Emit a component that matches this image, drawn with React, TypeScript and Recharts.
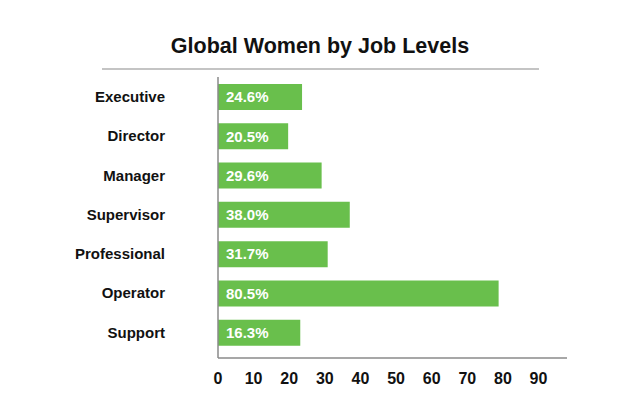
import { BarChart, Bar, XAxis, YAxis, LabelList } from 'recharts';

const categories = ['Executive', 'Director', 'Manager', 'Supervisor', 'Professional', 'Operator', 'Support'];
// bar lengths as drawn against the axis
const barValues = [23.6, 19.7, 29.1, 37.0, 30.8, 78.8, 23.1];
// text printed inside the bars
const barLabels = ['24.6%', '20.5%', '29.6%', '38.0%', '31.7%', '80.5%', '16.3%'];
const xTicks = [0, 10, 20, 30, 40, 50, 60, 70, 80, 90];

const data = categories.map((name, i) => ({ name, value: barValues[i], label: barLabels[i] }));

const font = '"Liberation Sans", Arial, Helvetica, sans-serif';

export default function App() {
  return (
    <div style={{ position: 'absolute', left: 0, top: 0, width: 640, height: 400, fontFamily: font, background: '#fff' }}>
      <svg width={640} height={400} style={{ position: 'absolute', left: 0, top: 0 }}>
        <text x={320} y={53} textAnchor="middle" fontSize={21.5} fontWeight={700} fill="#111" fontFamily={font}>
          Global Women by Job Levels
        </text>
        <line x1={102} x2={539} y1={69} y2={69} stroke="#b0b0b0" strokeWidth={1.5} />
      </svg>
      <div style={{ position: 'absolute', left: 0, top: 0 }}>
        <BarChart
          width={640}
          height={400}
          data={data}
          layout="vertical"
          margin={{ top: 77, right: 73, bottom: 12, left: 0 }}
        >
          <XAxis
            type="number"
            domain={[0, 98]}
            ticks={xTicks}
            allowDataOverflow
            height={30}
            tickLine={false}
            tickSize={0}
            tickMargin={15}
            axisLine={{ stroke: '#8a8a8a', strokeWidth: 1.5 }}
            tick={{ fill: '#111', fontSize: 16, fontWeight: 700, fontFamily: font }}
          />
          <YAxis
            type="category"
            dataKey="name"
            width={218}
            padding={{ top: 0, bottom: 6 }}
            tickLine={false}
            tickSize={0}
            tickMargin={53}
            axisLine={{ stroke: '#8a8a8a', strokeWidth: 1.5 }}
            tick={{ fill: '#111', fontSize: 15, fontWeight: 700, fontFamily: font }}
          />
          <Bar dataKey="value" fill="#69bf4c" barSize={26} isAnimationActive={false}>
            <LabelList
              dataKey="label"
              position="insideLeft"
              offset={8}
              fill="#fff"
              fontSize={15}
              fontWeight={700}
              fontFamily={font}
            />
          </Bar>
        </BarChart>
      </div>
    </div>
  );
}
